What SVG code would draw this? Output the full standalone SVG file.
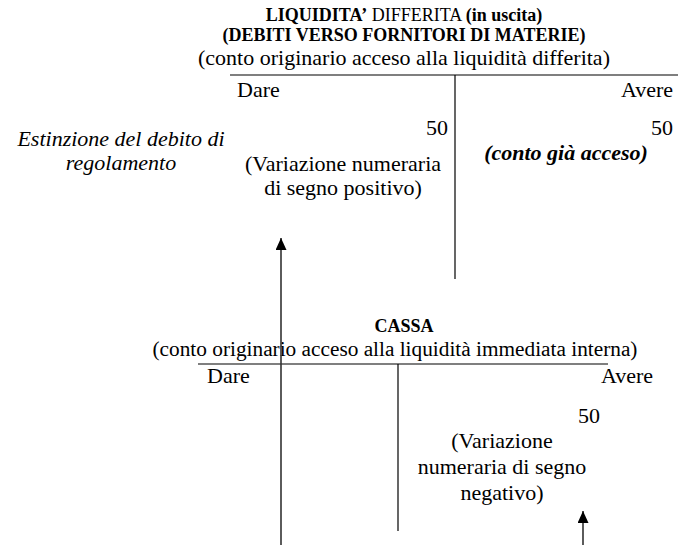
<svg xmlns="http://www.w3.org/2000/svg" width="684" height="545" viewBox="0 0 684 545">
<style>
text{font-family:"Liberation Serif","Times New Roman",serif;fill:#000}
.t{font-size:18px;font-weight:bold}
.n{font-size:22px}
.i{font-size:22px;font-style:italic}
.bi{font-size:22px;font-style:italic;font-weight:bold}
.m{text-anchor:middle}
.e{text-anchor:end}
.rule{stroke:#000;stroke-width:1.2;fill:none}
.arr{stroke:#333;stroke-width:1.6;fill:none;marker-end:url(#ah)}
</style>
<defs>
<marker id="ah" viewBox="0 0 12 11" refX="12" refY="5.5" markerWidth="12" markerHeight="11" markerUnits="userSpaceOnUse" orient="auto">
<path d="M0,0 L12,5.5 L0,11 z" fill="#000"/>
</marker>
</defs>
<g id="account-liquidita">
<text class="t m" x="404" y="21">LIQUIDITA’<tspan font-weight="normal"> DIFFERITA </tspan>(in uscita)</text>
<text class="t m" x="404" y="41">(DEBITI VERSO FORNITORI DI MATERIE)</text>
<text class="n m" x="404" y="65">(conto originario acceso alla liquidità differita)</text>
<line class="rule" x1="230" y1="75" x2="678" y2="75"/>
<line class="rule" x1="455" y1="75" x2="455" y2="279"/>
<text class="n" x="237" y="97">Dare</text>
<text class="n e" x="673" y="97">Avere</text>
<text class="n e" x="448" y="135">50</text>
<text class="n e" x="673" y="135">50</text>
<text class="bi m" x="566" y="160">(conto già acceso)</text>
<text class="n m" x="343" y="171">(Variazione numeraria</text>
<text class="n m" x="343" y="195">di segno positivo)</text>
</g>
<g id="label-estinzione">
<text class="i m" x="121" y="146">Estinzione del debito di</text>
<text class="i m" x="121" y="170">regolamento</text>
</g>
<g id="account-cassa">
<text class="t m" x="404" y="332">CASSA</text>
<text class="m" style="font-size:21.3px" x="395" y="356">(conto originario acceso alla liquidità immediata interna)</text>
<line class="rule" x1="198" y1="364" x2="608" y2="364"/>
<line class="rule" x1="398" y1="364" x2="398" y2="531"/>
<text class="n" x="207" y="383">Dare</text>
<text class="n e" x="653" y="383">Avere</text>
<text class="n e" x="600" y="423">50</text>
<text class="n m" x="502" y="448">(Variazione</text>
<text class="n m" x="502" y="474">numeraria di segno</text>
<text class="n m" x="502" y="500">negativo)</text>
</g>
<g id="connectors">
<line class="arr" x1="281" y1="545" x2="281" y2="238"/>
<line class="arr" x1="583" y1="545" x2="583" y2="511"/>
</g>
</svg>
